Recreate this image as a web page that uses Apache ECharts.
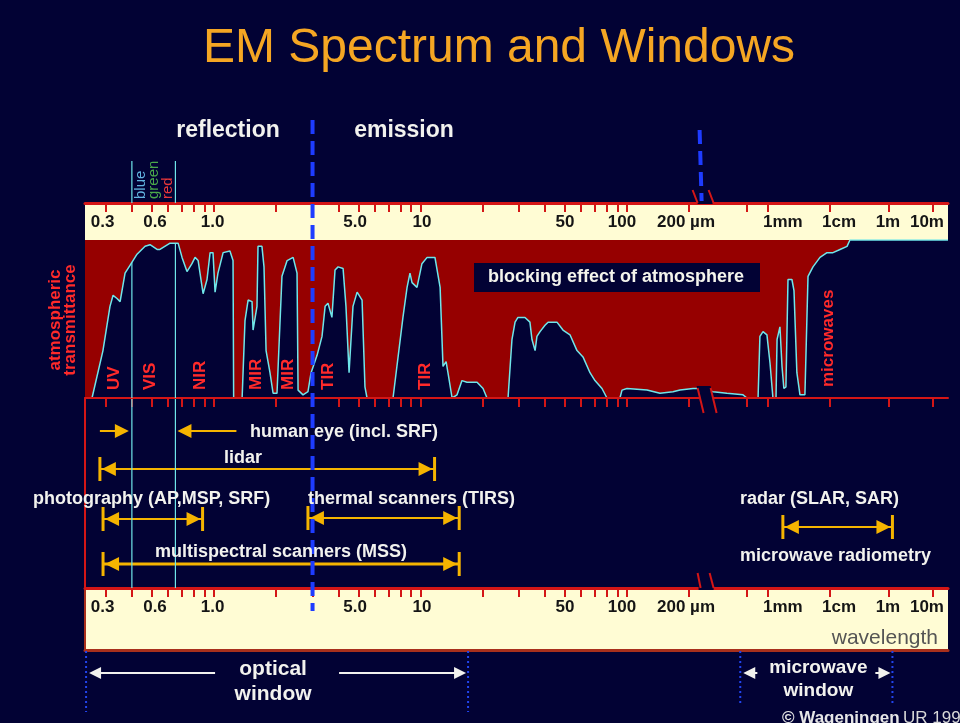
<!DOCTYPE html>
<html>
<head>
<meta charset="utf-8">
<script src="https://cdn.jsdelivr.net/npm/echarts@6/dist/echarts.min.js"></script>
<style>
  html, body { margin: 0; padding: 0; background: #020234; }
  #chart { width: 960px; height: 723px; }
</style>
</head>
<body>
<div id="chart"></div>
<script>
// wavelength scale: decades (log10 um) up to 200 um, compressed beyond the break
const farWl = [200, 500, 1000, 1e4, 1e6, 1e7];
const farPos = [2.301, 2.581, 2.683, 2.983, 3.269, 3.482];
const tickWl = [0.3, 0.4, 0.5, 0.6, 0.7, 0.8, 0.9, 1, 2, 3, 4, 5, 6, 7, 8, 9, 10,
  20, 30, 40, 50, 60, 70, 80, 90, 100, 200, 500, 1000, 1e4, 1e6, 1e7];
const scaleLabels = ['0.3', '0.6', '1.0', '5.0', '10', '50', '100', '200 µm', '1mm', '1cm', '1m', '10m'];
const scaleLabelPos = [-0.54, -0.286, -0.007, 0.683, 1.007, 1.7, 1.976, 2.286, 2.755, 3.027, 3.264, 3.453];

// atmospheric transmittance (%) against scale position
const transmittance = [
  [-0.591,0],[-0.538,30],[-0.504,58],[-0.489,65],[-0.470,63],[-0.455,61],[-0.431,79],[-0.407,84],
  [-0.373,91],[-0.334,96],[-0.310,97],[-0.276,94],[-0.262,94],[-0.213,98],[-0.174,98],[-0.155,89],
  [-0.131,80],[-0.107,85],[-0.092,89],[-0.077,87],[-0.053,66],[-0.034,75],[-0.019,92],[-0.005,92],
  [0.005,67],[0.019,79],[0.044,92],[0.077,93],[0.092,87],[0.095,0],[0.136,0],[0.150,49],[0.165,62],
  [0.184,61],[0.189,43],[0.208,58],[0.213,96],[0.232,96],[0.242,83],[0.252,30],[0.271,16],[0.286,3],
  [0.305,3],[0.329,77],[0.354,87],[0.383,89],[0.402,79],[0.407,5],[0.431,2],[0.455,4],[0.470,16],
  [0.499,27],[0.523,39],[0.538,58],[0.552,60],[0.571,51],[0.586,81],[0.601,83],[0.625,82],[0.639,58],
  [0.654,16],[0.673,58],[0.693,67],[0.717,62],[0.731,7],[0.741,0],[0.867,0],[0.915,51],[0.935,70],
  [0.949,79],[0.959,73],[0.983,70],[1.007,85],[1.032,89],[1.070,89],[1.095,70],[1.109,20],[1.124,23],
  [1.133,16],[1.153,0],[1.177,2],[1.201,11],[1.225,10],[1.274,10],[1.303,6],[1.322,0],[1.424,0],
  [1.443,37],[1.458,48],[1.472,51],[1.506,51],[1.530,48],[1.540,37],[1.555,30],[1.564,39],[1.579,42],
  [1.603,46],[1.618,48],[1.661,48],[1.690,43],[1.724,40],[1.758,30],[1.787,26],[1.821,16],[1.845,11],
  [1.879,6],[1.903,0],[1.966,0],[1.976,5],[2.000,6],[2.097,5],[2.160,3],[2.223,4],[2.257,5],[2.320,6],
  [2.339,6],[2.417,4],[2.484,3],[2.562,2],[2.581,0],[2.635,0],[2.644,39],[2.659,42],[2.678,40],
  [2.693,22],[2.707,0],[2.722,0],[2.727,37],[2.741,45],[2.751,20],[2.760,6],[2.770,7],[2.780,75],
  [2.799,75],[2.809,68],[2.823,16],[2.838,2],[2.862,2],[2.877,77],[2.901,83],[2.935,89],[2.969,92],
  [2.998,92],[3.032,94],[3.066,96],[3.080,100],[3.555,100]
];

const bandNames = ['UV', 'VIS', 'NIR', 'MIR', 'MIR', 'TIR', 'TIR', 'microwaves'];
const bandWl = [0.33, 0.49, 0.855, 1.6, 2.28, 3.56, 10.5, 9300];

const visibleWl = [0.4, 0.65];
const emissionFrom = 3;   // reflection | emission divide (um)
const breakWl = 240;

const instNames = ['human eye (incl. SRF)', 'lidar', 'photography (AP,MSP, SRF)',
  'thermal scanners (TIRS)', 'multispectral scanners (MSS)', 'radar (SLAR, SAR)'];
const instFrom = [0.4, 0.28, 0.29, 2.85, 0.29, 1740];
const instTo = [0.65, 11.7, 0.88, 15.4, 15.4, 1.2e6];

const windowNames = ['optical\nwindow', 'microwave\nwindow'];
const windowFrom = [0.24, 450];
const windowTo = [17, 1.2e6];

// ---- layout / style
const NAVY = '#020234', CREAM = '#fffcd4', BLOCK = '#960000', AXISRED = '#d41616';
const CYAN = '#6fe6ea', GOLD = '#f5b400', TEXTRED = '#ff2a2a', WHITE = '#f2f2ee';
const FONT = '"Liberation Sans", Arial, sans-serif';
const AX_MIN = -0.625, AX_MAX = 3.555;
const instRowY = [431, 469, 519, 518, 564, 527];
const instLineW = [2, 2, 2, 2, 3, 2];

function pos(wl) {
  const l = Math.log10(wl);
  if (wl <= farWl[0]) return l;
  for (let i = 1; i < farWl.length; i++) {
    const a = Math.log10(farWl[i - 1]), b = Math.log10(farWl[i]);
    if (l <= b || i === farWl.length - 1) {
      return farPos[i - 1] + (l - a) / (b - a) * (farPos[i] - farPos[i - 1]);
    }
  }
}

function tAt(p) {
  for (let i = 1; i < transmittance.length; i++) {
    const [x0, y0] = transmittance[i - 1], [x1, y1] = transmittance[i];
    if (p <= x1) return y0 + (y1 - y0) * (p - x0) / ((x1 - x0) || 1);
  }
  return 0;
}

const labelFor = v => {
  const i = scaleLabelPos.findIndex(p => Math.abs(p - v) < 1e-6);
  return i < 0 ? '' : scaleLabels[i];
};

const scaleAxis = grid => ({
  type: 'value', gridIndex: grid, position: 'top', min: AX_MIN, max: AX_MAX, z: 5,
  axisLine: { show: true, onZero: false, lineStyle: { color: AXISRED, width: 3 } },
  axisTick: { show: true, inside: true, length: 9, customValues: tickWl.map(pos),
    lineStyle: { color: AXISRED, width: 2 } },
  axisLabel: { show: true, inside: true, margin: 11, customValues: scaleLabelPos, formatter: labelFor,
    color: '#151515', fontSize: 17, fontWeight: 'bold', fontFamily: FONT },
  splitLine: { show: false }
});

const hiddenY = (grid, max) => ({ type: 'value', gridIndex: grid, min: 0, max: max, show: false });

const chart = echarts.init(document.getElementById('chart'));

const option = {
  backgroundColor: NAVY,
  animation: false,
  grid: [
    { left: 85, right: 12, top: 203, height: 37, show: true, backgroundColor: CREAM, borderWidth: 0 },
    { left: 85, right: 12, top: 240, height: 158, show: true, backgroundColor: BLOCK, borderWidth: 0 },
    { left: 85, right: 12, top: 398, height: 190 },
    { left: 85, right: 12, top: 588, height: 62, show: true, backgroundColor: CREAM, borderWidth: 0 }
  ],
  xAxis: [
    scaleAxis(0),
    {
      type: 'value', gridIndex: 1, position: 'bottom', min: AX_MIN, max: AX_MAX, z: 5,
      axisLine: { show: true, onZero: false, lineStyle: { color: AXISRED, width: 2 } },
      axisTick: { show: true, inside: false, length: 9, customValues: tickWl.map(pos),
        lineStyle: { color: AXISRED, width: 2 } },
      axisLabel: { show: false }, splitLine: { show: false }
    },
    { type: 'value', gridIndex: 2, min: AX_MIN, max: AX_MAX, show: false },
    scaleAxis(3),
    {
      type: 'value', gridIndex: 3, position: 'bottom', min: AX_MIN, max: AX_MAX,
      axisLine: { show: true, onZero: false, lineStyle: { color: '#a8301c', width: 3 } },
      axisTick: { show: false }, axisLabel: { show: false }, splitLine: { show: false }
    }
  ],
  yAxis: [
    hiddenY(0, 1),
    hiddenY(1, 100),
    {
      type: 'value', gridIndex: 2, min: 0, max: 1,
      axisLine: { show: true, onZero: false, lineStyle: { color: AXISRED, width: 2 } },
      axisTick: { show: false }, axisLabel: { show: false }, splitLine: { show: false }
    },
    {
      type: 'value', gridIndex: 3, min: 0, max: 1,
      axisLine: { show: true, onZero: false, lineStyle: { color: '#a8301c', width: 2 } },
      axisTick: { show: false }, axisLabel: { show: false }, splitLine: { show: false }
    }
  ],
  series: [
    {
      type: 'line', xAxisIndex: 1, yAxisIndex: 1, data: transmittance,
      symbol: 'none', smooth: false, z: 2,
      lineStyle: { color: CYAN, width: 1.5 },
      areaStyle: { color: NAVY, opacity: 1 }
    },
    {
      type: 'custom', xAxisIndex: 2, yAxisIndex: 2, z: 10,
      data: instFrom.map((f, i) => [pos(f), pos(instTo[i]), i]),
      encode: { x: [0, 1], y: 2 },
      renderItem: (params, api) => {
        const i = api.value(2);
        const x1 = api.coord([api.value(0), 0])[0];
        const x2 = api.coord([api.value(1), 0])[0];
        const y = instRowY[i];
        const kids = [];
        const head = (tip, dir) => ({ type: 'polygon',
          shape: { points: [[tip, y], [tip - dir * 14, y - 7], [tip - dir * 14, y + 7]] },
          style: { fill: GOLD } });
        const ln = (a, b) => ({ type: 'line', shape: { x1: a, y1: y, x2: b, y2: y },
          style: { stroke: GOLD, lineWidth: instLineW[i] } });
        if (i === 0) {
          // arrows pointing in at the limits of human vision
          kids.push(ln(x1 - 32, x1 - 8), head(x1 - 3, 1));
          kids.push(ln(x2 + 61, x2 + 8), head(x2 + 2, -1));
        } else {
          kids.push(ln(x1, x2));
          kids.push({ type: 'rect', shape: { x: x1 - 1.5, y: y - 12, width: 3, height: 24 }, style: { fill: GOLD } });
          kids.push({ type: 'rect', shape: { x: x2 - 1.5, y: y - 12, width: 3, height: 24 }, style: { fill: GOLD } });
          kids.push(head(x1 + 2, -1), head(x2 - 2, 1));
        }
        return { type: 'group', children: kids };
      }
    }
  ]
};

chart.setOption(option);

// ---- annotations, placed through the axis scale
const X = v => chart.convertToPixel({ xAxisIndex: 1 }, v);
const Xw = wl => X(pos(wl));
const Yt = t => chart.convertToPixel({ yAxisIndex: 1 }, t);

const g = [];
const txt = (text, x, y, o = {}) => g.push({
  type: 'text', x, y, rotation: o.rot || 0, z: 100,
  style: { text, fill: o.fill || WHITE, font: o.font || ('bold 18px ' + FONT),
    align: o.align || 'center', verticalAlign: 'middle', lineHeight: o.lh }
});
const seg = (x1, y1, x2, y2, stroke, w, dash) => g.push({
  type: 'line', z: 100, shape: { x1, y1, x2, y2 },
  style: { stroke, lineWidth: w, lineDash: dash }
});
const tri = (tip, y, dir, fill, len, half) => g.push({
  type: 'polygon', z: 100,
  shape: { points: [[tip, y], [tip - dir * len, y - half], [tip - dir * len, y + half]] },
  style: { fill }
});

txt('EM Spectrum and Windows', 499, 49, { fill: '#f5a623', font: '48px ' + FONT });
txt('reflection', 228, 131, { font: 'bold 23px ' + FONT });
txt('emission', 404, 131, { font: 'bold 23px ' + FONT });

// blocking label box
g.push({ type: 'rect', z: 100, shape: { x: 474, y: 263, width: 286, height: 29 }, style: { fill: NAVY } });
txt('blocking effect of atmosphere', 616, 277, { fill: '#f4f4ec' });

// side label
txt('atmospheric\ntransmittance', 63, 320, { rot: Math.PI / 2, fill: TEXTRED, font: 'bold 17px ' + FONT, lh: 15 });

// band names
bandNames.forEach((n, i) => {
  txt(n, Xw(bandWl[i]), n.length > 3 ? 387 : 390,
    { rot: Math.PI / 2, align: 'left', fill: TEXTRED, font: 'bold 17px ' + FONT });
});

// visible light
visibleWl.forEach(wl => {
  const x = Xw(wl);
  seg(x, 161, x, 203, CYAN, 1.2);
  seg(x, Yt(tAt(pos(wl))), x, 398, CYAN, 1.2);
  seg(x, 399, x, 588, CYAN, 1.2);
});
const colX = (Xw(visibleWl[0]) + Xw(visibleWl[1])) / 2;
txt('blue', colX - 13, 199, { rot: Math.PI / 2, align: 'left', fill: '#62b4e0', font: '15px ' + FONT });
txt('green', colX, 199, { rot: Math.PI / 2, align: 'left', fill: '#4aa84a', font: '15px ' + FONT });
txt('red', colX + 14, 199, { rot: Math.PI / 2, align: 'left', fill: '#e8383a', font: '15px ' + FONT });

// reflection / emission divide
const ex = Xw(emissionFrom);
seg(ex, 120, ex, 611, '#1e3cff', 4, [14, 7]);

// axis break
const bx = Xw(breakWl);
seg(bx - 1, 130, bx + 1, 201, '#1e3cff', 4, [14, 7]);
g.push({ type: 'rect', z: 99, shape: { x: bx - 3, y: 200, width: 15, height: 4 }, style: { fill: NAVY } });
seg(bx - 8, 190, bx - 3, 203, AXISRED, 2);
seg(bx + 8, 190, bx + 13, 203, AXISRED, 2);
g.push({ type: 'polygon', z: 99, shape: { points: [[bx - 4, 386], [bx + 10, 386], [bx + 13, 400], [bx - 1, 400]] }, style: { fill: NAVY } });
seg(bx - 3, 388, bx + 3, 413, AXISRED, 2);
seg(bx + 10, 388, bx + 16, 413, AXISRED, 2);
g.push({ type: 'rect', z: 99, shape: { x: bx - 2, y: 585, width: 15, height: 5 }, style: { fill: NAVY } });
seg(bx - 3, 573, bx, 588, AXISRED, 2);
seg(bx + 9, 573, bx + 13, 588, AXISRED, 2);

// instrument labels
txt(instNames[0], 250, 432, { align: 'left' });
txt(instNames[1], 243, 458);
txt(instNames[2], 33, 499, { align: 'left' });
txt(instNames[3], 308, 499, { align: 'left' });
txt(instNames[4], 281, 552);
txt(instNames[5], 740, 499, { align: 'left' });
txt('microwave radiometry', 740, 556, { align: 'left' });

// wavelength caption
txt('wavelength', 938, 638, { align: 'right', fill: '#555555', font: '21px ' + FONT });

// atmospheric windows
windowNames.forEach((n, i) => {
  const a = Xw(windowFrom[i]), b = Xw(windowTo[i]);
  const mid = (a + b) / 2;
  const big = i === 0;
  const gap = big ? 62 : 59;
  seg(a, 651, a, big ? 712 : 705, '#2244ee', 2, [2, 3]);
  seg(b, 651, b, big ? 712 : 705, '#2244ee', 2, [2, 3]);
  seg(mid - gap, 673, a + 12, 673, WHITE, 2);
  tri(a + 3, 673, -1, WHITE, 12, 6);
  seg(mid + gap, 673, b - 12, 673, WHITE, 2);
  tri(b - 2, 673, 1, WHITE, 12, 6);
  txt(n, mid + (big ? -4 : 2), big ? 682 : 679,
    { font: (big ? 'bold 21px ' : 'bold 19px ') + FONT, lh: big ? 25 : 23 });
});

// credit
txt('© Wageningen', 782, 718, { align: 'left', fill: '#e6e6e6', font: 'bold 17px ' + FONT });
txt('UR 1999', 903, 718, { align: 'left', fill: '#d8d8d8', font: '17px ' + FONT });

chart.setOption({ graphic: { elements: g } });
</script>
</body>
</html>
